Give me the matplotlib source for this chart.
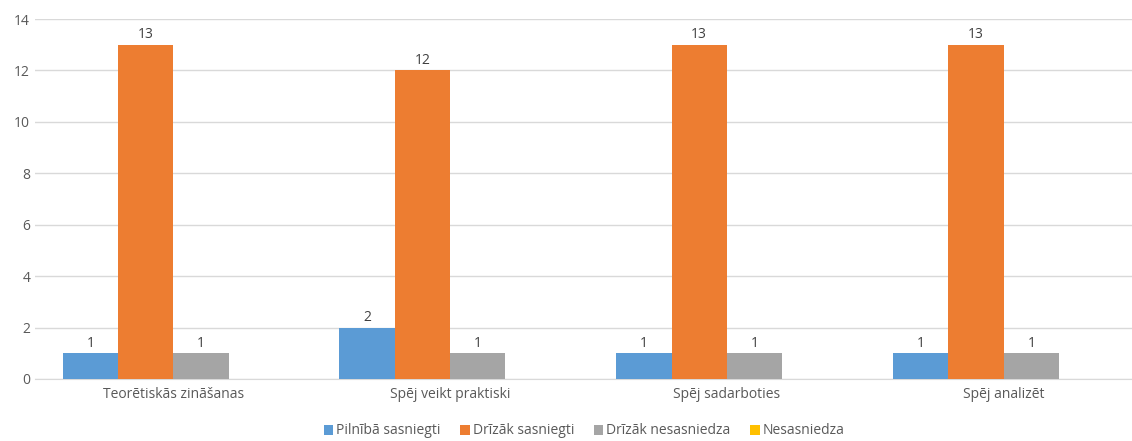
import numpy as np
import matplotlib
matplotlib.use("Agg")
from matplotlib import pyplot as plt

categories = ["Teorētiskās zināšanas", "Spēj veikt praktiski", "Spēj sadarboties", "Spēj analizēt"]
series_names = ["Pilnībā sasniegti", "Drīzāk sasniegti", "Drīzāk nesasniedza", "Nesasniedza"]
pilniba = [1, 2, 1, 1]
drizak_sasn = [13, 12, 13, 13]
drizak_nesasn = [1, 1, 1, 1]
nesasniedza = [0, 0, 0, 0]
colors = ["#5B9BD5", "#ED7D31", "#A5A5A5", "#FFC000"]

plt.rcParams['font.family'] = ['Open Sans', 'DejaVu Sans']
txt = "#595959"

fig = plt.figure(figsize=(11.32, 4.41), dpi=100)
ax = fig.add_axes([35 / 1132, 1 - 379 / 441, 1107 / 1132, 360 / 441])

x = np.arange(len(categories))
w = 0.2
all_series = [pilniba, drizak_sasn, drizak_nesasn, nesasniedza]
for i, vals in enumerate(all_series):
    bars = ax.bar(x + (i - 1.5) * w, vals, w, color=colors[i], label=series_names[i], zorder=3)
    for b, v in zip(bars, vals):
        if v > 0:
            ax.text(b.get_x() + b.get_width() / 2, v + 0.1, str(v), ha="center", va="bottom",
                    fontsize=10, color="#404040")

ax.set_xlim(-0.5, 3.5)
ax.set_ylim(0, 14)
ax.set_yticks(range(0, 15, 2))
ax.set_xticks(x)
ax.set_xticklabels(categories)
ax.tick_params(axis="both", length=0, colors=txt, labelsize=10)
ax.tick_params(axis="x", pad=6)
ax.grid(axis="y", color="#D9D9D9", linewidth=1, zorder=0)
for s in ["top", "right", "left"]:
    ax.spines[s].set_visible(False)
ax.spines["bottom"].set_color("#D9D9D9")

fig.legend(loc="center", bbox_to_anchor=(584 / 1132, 1 - 431 / 441), ncol=4, frameon=False,
           fontsize=10, labelcolor=txt, handlelength=0.7, handleheight=0.7,
           handletextpad=0.2, columnspacing=1.4)

fig.savefig("out.png", dpi=100)
